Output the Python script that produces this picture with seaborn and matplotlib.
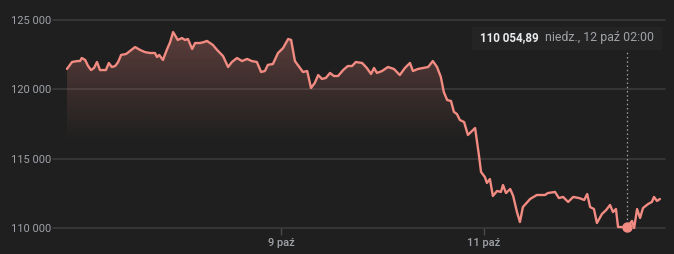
import numpy as np
import pandas as pd
import matplotlib
matplotlib.use("Agg")
import matplotlib.pyplot as plt
import seaborn as sns
from matplotlib.colors import to_rgb
from matplotlib.patches import Rectangle

# ---- data (hours since 6 Oct 00:00, price) ----
hours = [21.4, 22.6, 23.8, 24.5, 24.9, 25.7, 26.4, 27.1, 27.8, 28.5,
         29.2, 30.6, 31.3, 32.0, 32.8, 33.5, 34.2, 35.4, 36.3, 37.5,
         38.7, 39.8, 41.0, 42.2, 42.7, 43.2, 44.1, 45.0, 45.8, 46.5,
         47.2, 47.6, 48.6, 49.3, 50.0, 51.0, 51.7, 52.9, 53.8, 54.5,
         55.9, 56.9, 57.6, 58.3, 59.5, 60.4, 61.6, 62.8, 64.0, 65.1,
         66.3, 67.3, 68.2, 68.9, 70.1, 71.3, 72.5, 73.7, 74.4, 75.3,
         76.5, 77.2, 78.2, 79.1, 80.0, 80.8, 81.7, 82.6, 83.6, 84.5,
         85.5, 86.7, 87.8, 88.8, 89.7, 91.2, 92.3, 93.3, 94.0, 94.7,
         95.9, 97.3, 98.7, 100.1, 101.3, 102.5, 103.2, 104.4, 105.6, 106.8,
         107.9, 108.9, 109.8, 110.5, 111.3, 112.2, 112.9, 113.6, 114.3, 115.3,
         116.2, 117.2, 117.9, 118.8, 119.3, 120.2, 120.7, 121.4, 122.1, 123.1,
         124.0, 124.5, 125.2, 126.2, 126.9, 127.8, 128.5, 129.2, 130.9, 132.5,
         134.4, 135.1, 136.8, 137.7, 138.7, 139.9, 141.1, 142.5, 143.7, 144.4,
         145.1, 146.0, 146.7, 147.9, 148.9, 149.8, 150.5, 151.2, 151.7, 153.1,
         153.8, 155.0, 155.5, 156.2, 156.9, 157.6, 158.8, 159.7, 160.2, 160.9,
         161.6]
prices = [121470, 121970, 122040, 122040, 122260, 122120, 121680, 121390, 121540, 121970,
          121390, 121390, 121900, 121610, 121680, 121970, 122480, 122550, 122760, 123050,
          122840, 122690, 122620, 122620, 122330, 122480, 122120, 122840, 123410, 124130,
          123770, 123560, 123700, 123560, 123630, 122910, 123340, 123340, 123410, 123490,
          123200, 122840, 122620, 122400, 121610, 121970, 122260, 122040, 122190, 122040,
          121970, 121250, 121320, 121760, 121830, 122620, 122980, 123630, 123560, 122040,
          121540, 121250, 121320, 120100, 120460, 121030, 120750, 120820, 121180, 120960,
          120960, 121390, 121680, 121680, 121970, 121900, 121540, 121110, 121540, 121180,
          121320, 121610, 121470, 121030, 121540, 121900, 121320, 121470, 121540, 121610,
          122040, 121610, 120890, 119810, 119230, 119160, 118370, 118220, 117790, 117640,
          116710, 117000, 117210, 115260, 114040, 113680, 113250, 113530, 112310, 112670,
          112600, 113100, 112520, 112810, 112310, 111150, 110430, 111510, 112090, 112380,
          112380, 112520, 112600, 112160, 112240, 111880, 112240, 112160, 112020, 112450,
          111510, 111370, 110360, 111010, 111300, 111660, 111150, 111370, 110070, 110070,
          110054.89, 110510, 110000, 111370, 110720, 111440, 111730, 111880, 112240, 111950,
          112090]

x_tick_hours = [72, 120]
x_tick_labels = ["9 paź", "11 paź"]
y_ticks = [110000, 115000, 120000, 125000]
y_tick_labels = ["110 000", "115 000", "120 000", "125 000"]

hover_hour = 153.8
hover_price = 110054.89
hover_value_text = "110 054,89"
hover_date_text = "niedz., 12 paź 02:00"

# ---- style ----
BG = "#1f1f1f"
LINE = "#f28b82"
GRID = "#3a3a3a"
LABEL = "#9ea2a7"

sns.set_theme(style="dark", rc={"axes.facecolor": BG, "figure.facecolor": BG})
plt.rcParams["font.family"] = ["Roboto", "DejaVu Sans"]

W, H = 674, 254
fig = plt.figure(figsize=(W / 100, H / 100), dpi=100, facecolor=BG)
ax = fig.add_axes([53 / W, (H - 228) / H, 612 / W, 208 / H])
ax.set_facecolor(BG)

df = pd.DataFrame({"hour": hours, "price": prices})

ax.set_xlim(18.1, 162.8)
ax.set_ylim(110000, 125000)

# gridlines
for yt in y_ticks:
    ax.axhline(yt, color=GRID, lw=1.2, zorder=1, clip_on=False)

# gradient fill under line
poly = ax.fill_between(df["hour"], df["price"], 110000, color="none", lw=0)
rgb = to_rgb(LINE)
n = 256
yy = np.linspace(110000, 125000, n)
alpha = 0.30 * np.clip((yy - 116000) / (124300 - 116000), 0, 1) ** 1.1
img = np.zeros((n, 1, 4))
img[:, 0, :3] = rgb
img[:, 0, 3] = alpha
im = ax.imshow(img, extent=[df["hour"].min(), df["hour"].max(), 110000, 125000],
               origin="lower", aspect="auto", zorder=2, interpolation="bilinear")
path = poly.get_paths()[0]
im.set_clip_path(path, transform=ax.transData)

sns.lineplot(data=df, x="hour", y="price", ax=ax, color=LINE, lw=1.7,
             zorder=3, clip_on=False)

# hover marker
ax.axvline(hover_hour, ymin=0, ymax=(228 - 50) / 208, color=LABEL, lw=0.9,
           ls=(0, (1.2, 2.2)), zorder=2)
ax.plot([hover_hour], [hover_price], "o", color=LINE, ms=6.5, zorder=5, clip_on=False)

# ticks
ax.set_xticks(x_tick_hours)
ax.set_xticklabels(x_tick_labels)
ax.set_yticks(y_ticks)
ax.set_yticklabels(y_tick_labels)
ax.tick_params(axis="x", length=5, width=1, color="#4a4a4a", pad=2,
               labelcolor=LABEL, labelsize=8, bottom=True)
ax.tick_params(axis="y", length=0, pad=1.5, labelcolor=LABEL, labelsize=8, left=True)
for lab in ax.get_xticklabels():
    lab.set_fontweight("medium")
ax.set_xlabel("")
ax.set_ylabel("")
ax.grid(False)
for s in ax.spines.values():
    s.set_visible(False)

# tooltip
fig.patches.append(Rectangle((472 / W, (H - 50) / H), 190 / W, 23 / H,
                             transform=fig.transFigure, facecolor="#242424",
                             edgecolor="none", zorder=10))
fig.text(480 / W, (H - 38) / H, hover_value_text, color="#e8eaed", fontsize=8.4,
         fontweight="bold", va="center", ha="left", zorder=11)
fig.text(545 / W, (H - 38) / H, hover_date_text, color=LABEL, fontsize=8.9,
         va="center", ha="left", zorder=11)

fig.savefig("out.png", dpi=100, facecolor=BG)
